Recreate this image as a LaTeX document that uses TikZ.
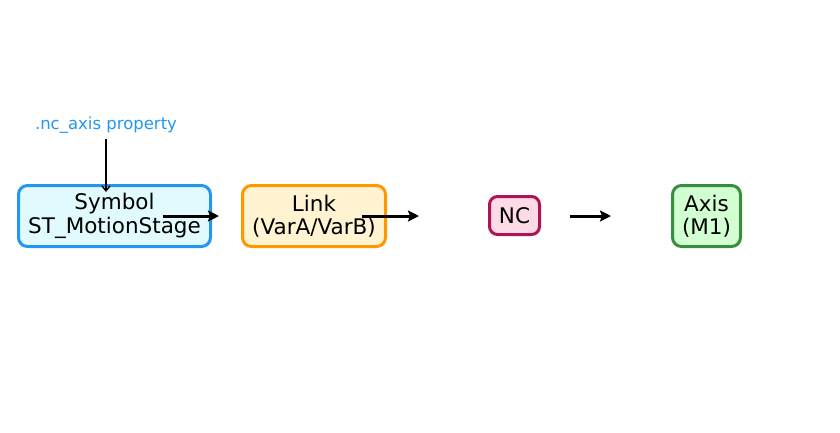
\documentclass[tikz,border=0pt]{standalone}
\usepackage{fontspec}
\setmainfont{DejaVu Sans}
\usetikzlibrary{arrows.meta}
\definecolor{symb}{HTML}{2196F3}
\definecolor{symbfill}{HTML}{E1FAFD}
\definecolor{linkc}{HTML}{FF9800}
\definecolor{linkfill}{HTML}{FFF3D2}
\definecolor{ncc}{HTML}{AD1457}
\definecolor{ncfill}{HTML}{FDDAE6}
\definecolor{axisc}{HTML}{388E3C}
\definecolor{axisfill}{HTML}{D2FFD2}
\tikzset{
  box/.style={draw, line width=3pt, rounded corners=9pt, inner sep=0pt, align=center,
    font=\fontsize{21.5}{23.5}\selectfont},
  flow/.style={line width=3pt, -{Stealth[length=11pt,width=11pt,inset=2pt]}},
  note/.style={line width=1.4pt, -{Straight Barb[length=5pt,width=8pt]}},
}
\begin{document}
\begin{tikzpicture}[x=1pt,y=1pt]
\useasboundingbox (0,0) rectangle (840,-432);
\node[box, draw=symb, fill=symbfill, minimum width=192pt, minimum height=61pt] (sym) at (114.5,-216) {Symbol\\ST\_MotionStage};
\node[box, draw=linkc, fill=linkfill, minimum width=143pt, minimum height=61pt] (link) at (314,-216) {Link\\(VarA/VarB)};
\node[box, draw=ncc, fill=ncfill, minimum width=50pt, minimum height=38pt, rounded corners=8pt] (nc) at (514.5,-215.5) {NC};
\node[box, draw=axisc, fill=axisfill, minimum width=68pt, minimum height=61pt] (axis) at (706.5,-216) {Axis\\(M1)};
\node[text=symb, font=\fontsize{16.5}{19}\selectfont, inner sep=0pt] (prop) at (106,-125.5) {.nc\_axis property};
\coordinate (a1s) at (163,-216); \coordinate (a1e) at (219,-216);
\coordinate (a2s) at (362,-216); \coordinate (a2e) at (419,-216);
\coordinate (a3s) at (570,-216); \coordinate (a3e) at (611,-216);
\coordinate (ps) at (106,-139); \coordinate (pe) at (106,-192);
\draw[flow] (a1s) -- (a1e);
\draw[flow] (a2s) -- (a2e);
\draw[flow] (a3s) -- (a3e);
\draw[note] (ps) -- (pe);
\end{tikzpicture}
\end{document}
